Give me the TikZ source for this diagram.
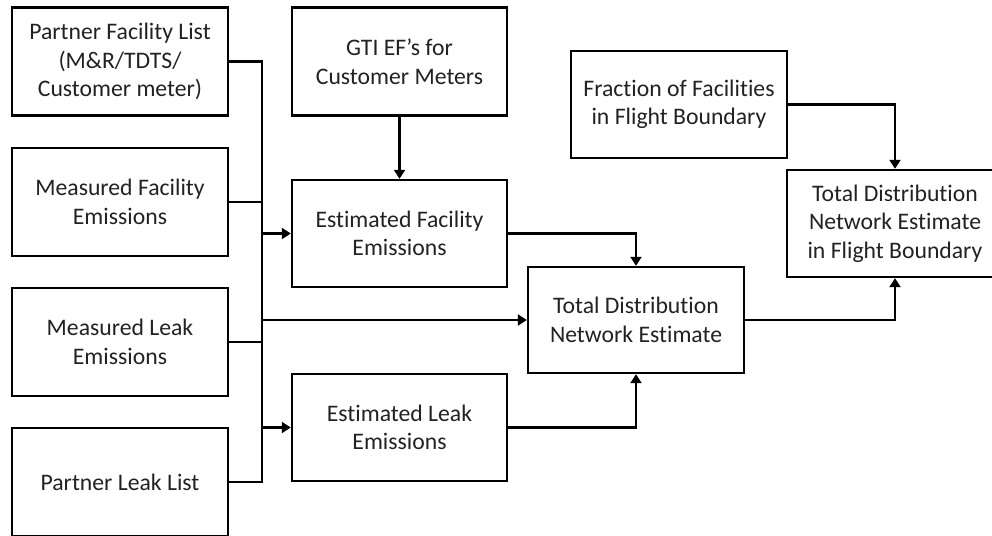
\documentclass[tikz,border=0pt]{standalone}
\usepackage{fontspec}
\setmainfont{Carlito}[Ligatures={NoCommon,NoRare,NoContextual}, Contextuals=NoAlternate]
\usetikzlibrary{arrows.meta}
\definecolor{ink}{HTML}{222222}
\tikzset{
  box/.style={draw=black, line width=2.4pt, fill=white, minimum width=216pt,
    minimum height=108pt, inner sep=0pt, align=center, text=ink,
    font=\fontsize{23.7}{28.5}\selectfont},
  link/.style={draw=black, line width=2.4pt},
  arr/.style={link, -{Triangle[length=9pt,width=11pt]}}
}
\begin{document}
\begin{tikzpicture}[x=1pt, y=-1pt]
  \useasboundingbox (0,0) rectangle (992,535);
  \clip (0,0) rectangle (992,535);

  % input column
  \node[box] (pfl) at (120,61.5) {Partner Facility List\\(M\&R/TDTS/\\Customer meter)};
  \node[box] (mfe) at (120,202) {Measured Facility\\Emissions};
  \node[box] (mle) at (120,342) {Measured Leak\\Emissions};
  \node[box] (pll) at (120,482) {Partner Leak List};

  % estimates
  \node[box, minimum width=215pt] (gti) at (399.5,61.5) {GTI EF’s for\\Customer Meters};
  \node[box, minimum width=215pt, minimum height=107pt] (efe) at (399.5,233.5) {Estimated Facility\\Emissions};
  \node[box, minimum width=215pt, minimum height=107pt] (ele) at (399.5,427.5) {Estimated Leak\\Emissions};
  \node[box, minimum height=106pt] (tdn) at (636,320) {Total Distribution\\Network Estimate};

  % flight boundary
  \node[box, minimum height=107pt] (frac) at (679,104.5) {Fraction of Facilities\\in Flight Boundary};
  \node[box, minimum height=107pt] (tdf) at (895,223.5) {Total Distribution\\Network Estimate\\in Flight Boundary};

  % collector bus on the left
  \coordinate (bus) at (262,0);
  \path[link] (pfl.east) -- (pfl.east -| bus) -- (pll.east -| bus) -- (pll.east);
  \path[link] (mfe.east) -- (mfe.east -| bus);
  \path[link] (mle.east) -- (mle.east -| bus);
  \path[arr] (efe.west -| bus) -- (efe.west);
  \path[arr] (tdn.west -| bus) -- (tdn.west);
  \path[arr] (ele.west -| bus) -- (ele.west);

  % remaining flows
  \path[arr] (gti.south) -- (efe.north);
  \path[arr] (efe.east) -| (tdn.north);
  \path[arr] (ele.east) -| (tdn.south);
  \path[arr] (tdn.east) -| (tdf.south);
  \path[arr] (frac.east) -| (tdf.north);
\end{tikzpicture}
\end{document}
